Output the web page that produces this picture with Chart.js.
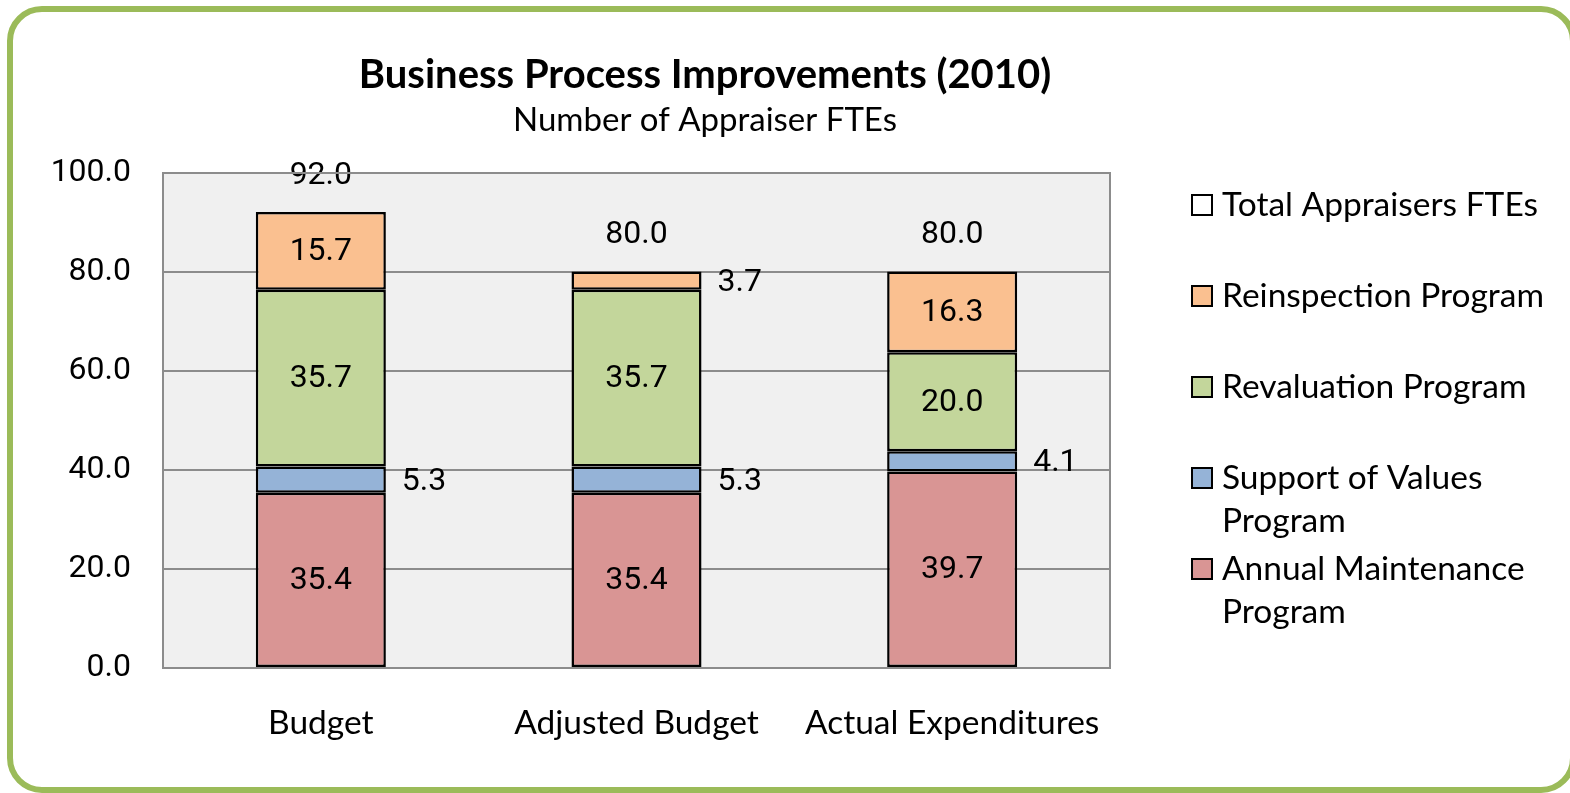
<!DOCTYPE html>
<html>
<head>
<meta charset="utf-8">
<script src="https://cdn.jsdelivr.net/npm/chart.js@4.4.1/dist/chart.umd.min.js"></script>
<style>
  html, body { margin: 0; padding: 0; background: #ffffff; }
  #wrap { position: relative; width: 1570px; height: 793px; }
  canvas { display: block; }
</style>
</head>
<body>
<div id="wrap"><canvas id="c" width="1570" height="793"></canvas></div>
<script>
const categories = ['Budget', 'Adjusted Budget', 'Actual Expenditures'];
const annualMaintenance = [35.4, 35.4, 39.7];
const supportOfValues = [5.3, 5.3, 4.1];
const revaluation = [35.7, 35.7, 20.0];
const reinspection = [15.7, 3.7, 16.3];
const totalFTEs = [92.0, 80.0, 80.0];
const yTicks = [0, 20, 40, 60, 80, 100];

const titleText = 'Business Process Improvements (2010)';
const subtitleText = 'Number of Appraiser FTEs';

const NUM_FONT = 'Roboto, "Liberation Sans", sans-serif';
const TXT_FONT = 'Lato, "Open Sans", sans-serif';

const PLOT = { left: 163, right: 1110, top: 173, bottom: 668 };

const framePlugin = {
  id: 'frame',
  beforeDraw(chart) {
    const ctx = chart.ctx;
    ctx.save();
    ctx.fillStyle = '#ffffff';
    ctx.fillRect(0, 0, chart.width, chart.height);
    const a = chart.chartArea;
    ctx.fillStyle = '#F0F0F0';
    ctx.fillRect(a.left, a.top, a.right - a.left, a.bottom - a.top);
    ctx.restore();
  },
  afterDraw(chart) {
    const ctx = chart.ctx;
    ctx.save();
    const x = 10, y = 9, w = 1563, h = 781, r = 32;
    ctx.strokeStyle = '#9BBB59';
    ctx.lineWidth = 6;
    ctx.beginPath();
    ctx.moveTo(x + r, y);
    ctx.lineTo(x + w - r, y);
    ctx.arcTo(x + w, y, x + w, y + r, r);
    ctx.lineTo(x + w, y + h - r);
    ctx.arcTo(x + w, y + h, x + w - r, y + h, r);
    ctx.lineTo(x + r, y + h);
    ctx.arcTo(x, y + h, x, y + h - r, r);
    ctx.lineTo(x, y + r);
    ctx.arcTo(x, y, x + r, y, r);
    ctx.closePath();
    ctx.stroke();

    const a = chart.chartArea;
    ctx.strokeStyle = '#8C8C8C';
    ctx.lineWidth = 2;
    ctx.strokeRect(a.left, a.top, a.right - a.left, a.bottom - a.top);

    ctx.fillStyle = '#000000';
    ctx.textAlign = 'center';
    ctx.textBaseline = 'middle';
    ctx.font = 'bold 40px ' + TXT_FONT;
    ctx.fillText(titleText, 705, 75);
    ctx.font = '33px ' + TXT_FONT;
    ctx.fillText(subtitleText, 705, 120);

    const items = chart.data.datasets.slice().reverse();
    ctx.font = '33.5px ' + TXT_FONT;
    ctx.textAlign = 'left';
    const boxX = 1192, boxSize = 20, textX = 1222, maxW = 340;
    items.forEach((ds, i) => {
      const cy = 205 + i * 91;
      ctx.fillStyle = ds.legendFill || ds.backgroundColor;
      ctx.fillRect(boxX, cy - boxSize / 2, boxSize, boxSize);
      ctx.strokeStyle = '#000000';
      ctx.lineWidth = 2;
      ctx.strokeRect(boxX, cy - boxSize / 2, boxSize, boxSize);
      const words = ds.label.split(' ');
      const lines = [];
      let cur = '';
      words.forEach(wd => {
        const test = cur ? cur + ' ' + wd : wd;
        if (ctx.measureText(test).width > maxW && cur) { lines.push(cur); cur = wd; }
        else cur = test;
      });
      if (cur) lines.push(cur);
      ctx.fillStyle = '#000000';
      lines.forEach((ln, k) => ctx.fillText(ln, textX, cy + k * 43));
    });
    ctx.restore();
  }
};

const labelPlugin = {
  id: 'barLabels',
  afterDatasetsDraw(chart) {
    const ctx = chart.ctx;
    ctx.save();
    ctx.fillStyle = '#000000';
    ctx.font = '32px ' + NUM_FONT;
    ctx.textBaseline = 'middle';
    chart.data.datasets.forEach((ds, di) => {
      const meta = chart.getDatasetMeta(di);
      meta.data.forEach((bar, i) => {
        const v = ds.data[i];
        const txt = v.toFixed(1);
        if (ds.isTotal) {
          ctx.textAlign = 'center';
          ctx.fillText(txt, bar.x, bar.y - 37);
          return;
        }
        const h = Math.abs(bar.base - bar.y);
        const cy = (bar.base + bar.y) / 2;
        if (h > 40) {
          ctx.textAlign = 'center';
          ctx.fillText(txt, bar.x, cy + 1);
        } else {
          ctx.textAlign = 'left';
          ctx.fillText(txt, bar.x + bar.width / 2 + 16, cy + 2);
        }
      });
    });
    ctx.restore();
  }
};

const common = { borderColor: '#000000', borderWidth: 2.5, borderSkipped: false, barPercentage: 0.412, categoryPercentage: 1.0 };

new Chart(document.getElementById('c'), {
  type: 'bar',
  data: {
    labels: categories,
    datasets: [
      Object.assign({ label: 'Annual Maintenance Program', data: annualMaintenance, backgroundColor: '#D99594' }, common),
      Object.assign({ label: 'Support of Values Program', data: supportOfValues, backgroundColor: '#95B3D7' }, common),
      Object.assign({ label: 'Revaluation Program', data: revaluation, backgroundColor: '#C3D69B' }, common),
      Object.assign({ label: 'Reinspection Program', data: reinspection, backgroundColor: '#FAC090' }, common),
      { label: 'Total Appraisers FTEs', data: totalFTEs, backgroundColor: 'rgba(0,0,0,0)', legendFill: '#FFFFFF',
        borderWidth: 0, stack: 'total', grouped: false, isTotal: true, barPercentage: 0.412, categoryPercentage: 1.0 }
    ]
  },
  options: {
    responsive: false,
    animation: false,
    events: [],
    layout: { padding: { left: 0, top: PLOT.top, right: 1570 - PLOT.right, bottom: 0 } },
    plugins: { legend: { display: false }, tooltip: { enabled: false }, title: { display: false } },
    scales: {
      x: {
        stacked: true,
        grid: { display: false, drawTicks: false },
        border: { display: false },
        ticks: { color: '#000000', font: { family: TXT_FONT, size: 33.5 }, padding: 35 },
        afterFit(scale) { scale.height = 793 - PLOT.bottom; }
      },
      y: {
        stacked: true,
        min: 0, max: 100,
        afterBuildTicks(scale) { scale.ticks = yTicks.map(v => ({ value: v })); },
        grid: { color: '#8C8C8C', lineWidth: 2, drawTicks: false },
        border: { display: false },
        ticks: { color: '#000000', font: { family: NUM_FONT, size: 32 }, padding: 32,
          callback: v => Number(v).toFixed(1) },
        afterFit(scale) { scale.width = PLOT.left; }
      }
    }
  },
  plugins: [framePlugin, labelPlugin]
});
</script>
</body>
</html>
